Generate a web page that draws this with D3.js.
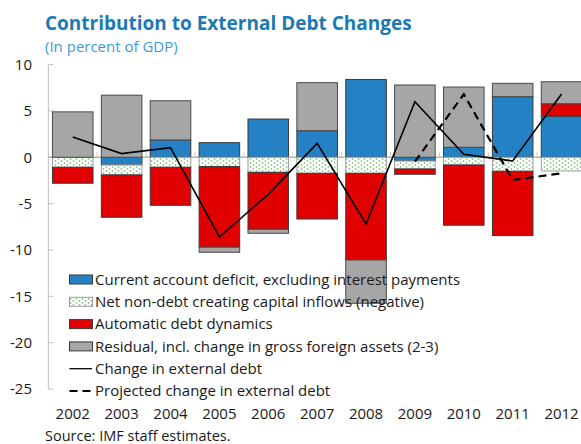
<!DOCTYPE html>
<html>
<head>
<meta charset="utf-8">
<script src="https://cdn.jsdelivr.net/npm/d3@7"></script>
<style>
  html, body { margin: 0; padding: 0; background: #fff; }
  svg { display: block; font-family: "Open Sans", "Noto Sans", sans-serif; }
</style>
</head>
<body>
<svg id="chart" width="581" height="444"></svg>
<script>
// Years on the category axis
const years = ["2002","2003","2004","2005","2006","2007","2008","2009","2010","2011","2012"];

// Contributions, in percent of GDP
const currentAccount = [0, -0.83, 1.87, 1.58, 4.13, 2.87, 8.4, -0.4, 1.08, 6.54, 4.45];
const nonDebtInflows = [-1.08, -1.07, -1.08, -1.0, -1.62, -1.73, -1.73, -0.86, -0.83, -1.51, -1.48];
const autoDynamics   = [-1.72, -4.57, -4.1, -8.7, -6.15, -4.93, -9.35, -0.57, -6.5, -6.94, 1.33];
const residual       = [4.9, 6.7, 4.23, -0.55, -0.43, 5.18, -4.67, 7.8, 6.5, 1.44, 2.37];

// Change in external debt (actual) and projected change
const debtChange      = [2.2, 0.4, 1.04, -8.6, -4.0, 1.5, -7.2, 6.0, 0.32, -0.4, 6.83];
const projYears       = ["2009","2010","2011","2012"];
const projectedChange = [-0.47, 6.8, -2.45, -1.73];

const yTicks = [10, 5, 0, -5, -10, -15, -20, -25];

const seriesKeys = ["ca", "nndc", "auto", "resid"];
const seriesNames = {
  ca: "Current account deficit, excluding interest payments",
  nndc: "Net non-debt creating capital inflows (negative)",
  auto: "Automatic debt dynamics",
  resid: "Residual, incl. change in gross foreign assets (2-3)"
};

const rows = years.map((y, i) => ({
  year: y,
  ca: currentAccount[i],
  nndc: nonDebtInflows[i],
  auto: autoDynamics[i],
  resid: residual[i]
}));

const svg = d3.select("#chart");

// Dotted fill for the non-debt inflows series
const defs = svg.append("defs");
const pat = defs.append("pattern")
  .attr("id", "dots")
  .attr("patternUnits", "userSpaceOnUse")
  .attr("width", 6).attr("height", 4);
pat.append("rect").attr("width", 6).attr("height", 4).attr("fill", "#ffffff");
pat.append("circle").attr("cx", 1.5).attr("cy", 1).attr("r", 0.9).attr("fill", "#8cc784");
pat.append("circle").attr("cx", 4.5).attr("cy", 3).attr("r", 0.9).attr("fill", "#8cc784");

const fills = { ca: "#2381c4", nndc: "url(#dots)", auto: "#e00000", resid: "#a6a6a6" };
const strokes = { ca: "#3a3a3a", nndc: "#a0a0a0", auto: "#3a3a3a", resid: "#4a4a4a" };

const x = d3.scaleBand().domain(years).range([48.3, 586]).paddingInner(0.17).paddingOuter(0.085);
const y = d3.scaleLinear().domain([-25, 10]).range([389, 64.6]);

// Title
svg.append("text").attr("x", 45).attr("y", 30)
  .attr("font-size", 19).attr("font-weight", 700).attr("fill", "#1b7ab5")
  .text("Contribution to External Debt Changes");
svg.append("text").attr("x", 45).attr("y", 52)
  .attr("font-size", 15).attr("fill", "#3d9bd8")
  .text("(In percent of GDP)");

// Y axis
const yAxis = svg.append("g").attr("transform", "translate(48.3,0)");
yAxis.append("line").attr("y1", y(10)).attr("y2", y(-25)).attr("stroke", "#bdbdbd").attr("stroke-width", 1);
yAxis.selectAll(".tk").data(yTicks).join("line")
  .attr("x1", 0).attr("x2", 5).attr("y1", d => y(d)).attr("y2", d => y(d))
  .attr("stroke", "#bdbdbd");
svg.append("g").selectAll("text").data(yTicks).join("text")
  .attr("x", 32).attr("y", d => y(d)).attr("dy", "0.35em")
  .attr("text-anchor", "end").attr("font-size", 15).attr("fill", "#1a1a1a")
  .text(d => d);

// Zero line with category separators
svg.append("line").attr("x1", 48.3).attr("x2", 586).attr("y1", y(0)).attr("y2", y(0))
  .attr("stroke", "#b5b5b5").attr("stroke-width", 1.5);
svg.append("g").selectAll("line").data(years.slice(1)).join("line")
  .attr("x1", d => x(d) - x.step() * x.paddingInner() / 2)
  .attr("x2", d => x(d) - x.step() * x.paddingInner() / 2)
  .attr("y1", y(0) - 5).attr("y2", y(0))
  .attr("stroke", "#c8c8c8");

// Stacked bars
const stack = d3.stack().keys(seriesKeys).offset(d3.stackOffsetDiverging);
const layers = stack(rows);
svg.append("g").selectAll("g").data(layers).join("g")
  .attr("fill", d => fills[d.key])
  .attr("stroke", d => strokes[d.key])
  .selectAll("rect").data(d => d.filter(s => s[1] !== s[0])).join("rect")
  .attr("x", d => x(d.data.year))
  .attr("width", x.bandwidth())
  .attr("y", d => y(Math.max(d[0], d[1])))
  .attr("height", d => Math.abs(y(d[0]) - y(d[1])))
  .attr("stroke-width", 1);

// Lines
const cx = d => x(d) + x.bandwidth() / 2;
const line = d3.line().x(d => cx(d[0])).y(d => y(d[1]));
svg.append("path").datum(years.map((yr, i) => [yr, debtChange[i]]))
  .attr("d", line).attr("fill", "none").attr("stroke", "#000").attr("stroke-width", 1.6);
svg.append("path").datum(projYears.map((yr, i) => [yr, projectedChange[i]]))
  .attr("d", line).attr("fill", "none").attr("stroke", "#000").attr("stroke-width", 2.2)
  .attr("stroke-dasharray", "8,5");

// X labels
svg.append("g").selectAll("text").data(years).join("text")
  .attr("x", d => cx(d)).attr("y", 419)
  .attr("text-anchor", "middle").attr("font-size", 15).attr("fill", "#1a1a1a")
  .text(d => d);

// Legend
const legend = svg.append("g");
const rowY = i => 279.5 + i * 22.3;
seriesKeys.forEach((k, i) => {
  legend.append("rect").attr("x", 69.5).attr("y", rowY(i) - 4.5).attr("width", 23).attr("height", 9)
    .attr("fill", fills[k]).attr("stroke", k === "nndc" ? "#9a9a9a" : "#3a3a3a");
  legend.append("text").attr("x", 95).attr("y", rowY(i)).attr("dy", "0.35em")
    .attr("font-size", 15).attr("fill", "#1a1a1a").text(seriesNames[k]);
});
legend.append("line").attr("x1", 69.5).attr("x2", 92).attr("y1", rowY(4)).attr("y2", rowY(4))
  .attr("stroke", "#000").attr("stroke-width", 1.3);
legend.append("text").attr("x", 95).attr("y", rowY(4)).attr("dy", "0.35em")
  .attr("font-size", 15).attr("fill", "#1a1a1a").text("Change in external debt");
legend.append("line").attr("x1", 69.5).attr("x2", 92).attr("y1", rowY(5)).attr("y2", rowY(5))
  .attr("stroke", "#000").attr("stroke-width", 2).attr("stroke-dasharray", "8,5");
legend.append("text").attr("x", 95).attr("y", rowY(5)).attr("dy", "0.35em")
  .attr("font-size", 15).attr("fill", "#1a1a1a").text("Projected change in external debt");

// Source note
svg.append("text").attr("x", 45).attr("y", 440.5)
  .attr("font-size", 14.5).attr("fill", "#1a1a1a")
  .text("Source: IMF staff estimates.");
</script>
</body>
</html>
